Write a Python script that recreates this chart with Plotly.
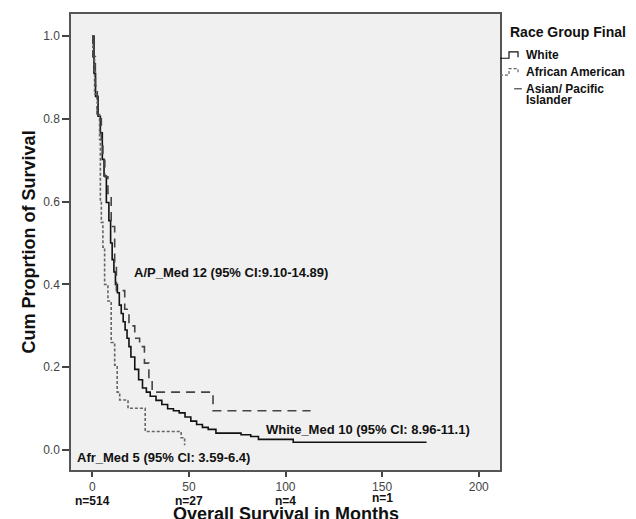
import plotly.graph_objects as go

# ---- data ----
white_t = [0, 0.4, 0.9, 1.7, 3.0, 4.2, 5.2, 6.1, 7.3, 8.6, 9.5, 10.3, 11.2, 12.0, 13.0, 14.0,
           15.0, 16.0, 17.0, 18.0, 19.0, 20.0, 22.0, 24.0, 26.0, 28.0, 30.0, 33.0, 36.0, 39.0,
           42.0, 45.0, 48.0, 51.0, 54.0, 57.0, 60.0, 64.0, 77.0, 82.0, 86.0, 104.0, 173.0]
white_s = [1.0, 1.0, 0.91, 0.854, 0.806, 0.766, 0.702, 0.662, 0.598, 0.554, 0.50, 0.46, 0.43,
           0.40, 0.38, 0.35, 0.33, 0.31, 0.29, 0.27, 0.25, 0.225, 0.195, 0.17, 0.15, 0.14,
           0.13, 0.12, 0.11, 0.10, 0.095, 0.09, 0.08, 0.07, 0.062, 0.055, 0.05, 0.041, 0.037,
           0.033, 0.026, 0.019, 0.019]

afr_t = [0, 0.3, 1.2, 2.6, 3.8, 4.2, 4.7, 5.5, 6.4, 8.1, 9.8, 11.6, 12.9, 14.2, 18.5, 27.4, 46.0, 47.8]
afr_s = [1.0, 0.95, 0.86, 0.81, 0.75, 0.60, 0.55, 0.49, 0.40, 0.36, 0.26, 0.205, 0.14, 0.121,
         0.101, 0.045, 0.03, 0.012]

ap_t = [0, 0.3, 1.6, 2.6, 4.7, 5.5, 6.5, 8.1, 9.8, 11.6, 12.5, 16.8, 19.0, 22.0, 24.5, 27.0,
        29.3, 31.0, 62.5, 113.0]
ap_s = [1.0, 0.95, 0.88, 0.80, 0.75, 0.70, 0.66, 0.62, 0.54, 0.45, 0.385, 0.34, 0.30, 0.27,
        0.25, 0.21, 0.17, 0.14, 0.095, 0.095]

x_ticks = [0, 50, 100, 150, 200]
y_ticks = [0.0, 0.2, 0.4, 0.6, 0.8, 1.0]
at_risk_x = [0, 50, 100, 150]
at_risk_labels = ["n=514", "n=27", "n=4", "n=1"]

series_names = ["White", "African American", "Asian/ Pacific<br>Islander"]

FONT = "Liberation Sans, Arial, sans-serif"

fig = go.Figure()
fig.add_trace(go.Scatter(x=white_t, y=white_s, mode="lines", line_shape="hv",
                         line=dict(color="#111111", width=1.6), name=series_names[0]))
fig.add_trace(go.Scatter(x=afr_t, y=afr_s, mode="lines", line_shape="hv",
                         line=dict(color="#666666", width=1.6, dash="3px,2px"), name=series_names[1]))
fig.add_trace(go.Scatter(x=ap_t, y=ap_s, mode="lines", line_shape="hv",
                         line=dict(color="#444444", width=1.6, dash="9px,6px"), name=series_names[2]))

fig.update_layout(
    width=636, height=519,
    margin=dict(l=63, r=144, t=4, b=57),
    paper_bgcolor="white", plot_bgcolor="#F0F0F0",
    showlegend=False,
    font=dict(family=FONT, color="#333333"),
)
fig.update_xaxes(range=[-11, 211], tickvals=x_ticks, ticktext=[str(v) for v in x_ticks],
                 ticks="outside", ticklen=5, tickcolor="#444444", tickwidth=1.5,
                 showgrid=False, zeroline=False, showline=True, mirror=True,
                 linecolor="#555555", linewidth=1.5, tickfont=dict(size=12, color="#444444"))
fig.update_yaxes(range=[-0.048, 1.053], tickvals=y_ticks, ticktext=[f"{v:.1f}" for v in y_ticks],
                 ticks="outside", ticklen=7, tickcolor="#444444", tickwidth=1.5,
                 showgrid=False, zeroline=False, showline=True, mirror=True,
                 linecolor="#555555", linewidth=1.5, tickfont=dict(size=12, color="#444444"))

bold = dict(family=FONT, size=13, color="#111111")
small_bold = dict(family=FONT, size=12, color="#111111")
anns = [
    dict(x=20.5, y=0.43, xref="x", yref="y", text="<b>A/P_Med 12 (95% CI:9.10-14.89)</b>",
         xanchor="left", yanchor="middle", showarrow=False, font=bold),
    dict(x=88.9, y=0.05, xref="x", yref="y", text="<b>White_Med 10 (95% CI: 8.96-11.1)</b>",
         xanchor="left", yanchor="middle", showarrow=False, font=bold),
    dict(x=-9.1, y=-0.019, xref="x", yref="y", text="<b>Afr_Med 5 (95% CI: 3.59-6.4)</b>",
         xanchor="left", yanchor="middle", showarrow=False, font=bold),
    dict(x=0.5, y=-0.0955, xref="paper", yref="paper", text="<b>Overall Survival in Months</b>",
         xanchor="center", yanchor="middle", showarrow=False, borderpad=0,
         font=dict(family=FONT, size=18, color="#111111")),
    dict(x=-0.097, y=0.5, xref="paper", yref="paper", text="<b>Cum Proprtion of Survival</b>",
         textangle=-90, xanchor="center", yanchor="middle", showarrow=False,
         font=dict(family=FONT, size=18, color="#111111")),
]
for xv, lab in zip(at_risk_x, at_risk_labels):
    yy = -0.061 if lab == "n=1" else -0.069
    anns.append(dict(x=xv, y=yy, xref="x", yref="paper", text=f"<b>{lab}</b>",
                     xanchor="center", yanchor="middle", showarrow=False, borderpad=0,
                     font=small_bold))

# legend (manual)
anns.append(dict(x=1.0186, y=0.9607, xref="paper", yref="paper", text="<b>Race Group Final</b>",
                 xanchor="left", yanchor="middle", showarrow=False,
                 font=dict(family=FONT, size=14, color="#111111")))
leg_y = [0.9105, 0.8734, 0.836]
leg_txt = ["White", "African American", "Asian/ Pacific"]
for yv, t in zip(leg_y, leg_txt):
    anns.append(dict(x=1.0560, y=yv, xref="paper", yref="paper", text=f"<b>{t}</b>",
                     xanchor="left", yanchor="middle", showarrow=False, font=small_bold))
anns.append(dict(x=1.0560, y=0.811, xref="paper", yref="paper", text="<b>Islander</b>",
                 xanchor="left", yanchor="middle", showarrow=False, font=small_bold))
fig.update_layout(annotations=anns)

# legend glyphs
shapes = [
    dict(type="path", xref="paper", yref="paper",
         path="M 1.0,0.903 L 1.021,0.903 L 1.021,0.917 L 1.042,0.917 L 1.042,0.905",
         line=dict(color="#111111", width=1.2)),
    dict(type="path", xref="paper", yref="paper",
         path="M 1.0,0.866 L 1.021,0.866 L 1.021,0.880 L 1.042,0.880 L 1.042,0.870",
         line=dict(color="#666666", width=1.2, dash="3px,2px")),
    dict(type="line", xref="paper", yref="paper", x0=1.033, x1=1.051, y0=0.836, y1=0.836,
         line=dict(color="#444444", width=1.2)),
]
fig.update_layout(shapes=shapes)

fig.write_html("out.html")
